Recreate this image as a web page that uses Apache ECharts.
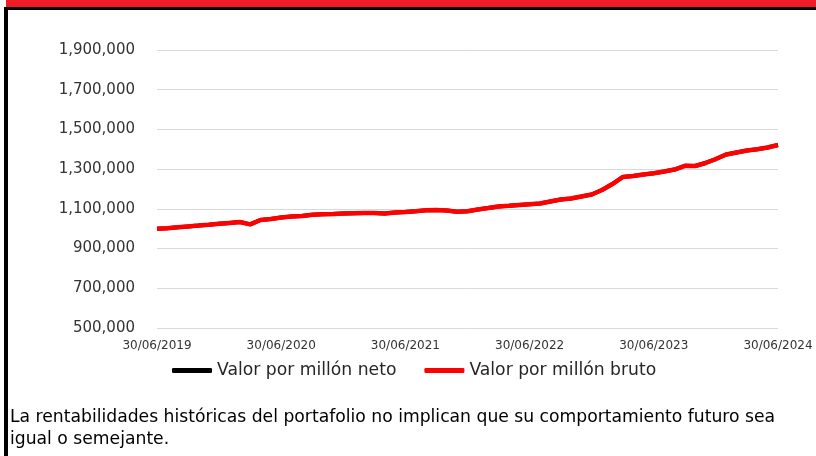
<!DOCTYPE html>
<html>
<head>
<meta charset="utf-8">
<script src="https://cdn.jsdelivr.net/npm/echarts@6/dist/echarts.min.js"></script>
<style>
  html, body { margin: 0; padding: 0; background: #fff; }
  #chart { width: 816px; height: 456px; }
</style>
</head>
<body>
<div id="chart"></div>
<script>
// monthly closing values, 30/06/2019 .. 30/06/2024
const brutoValues = [
  1000000, 1002600, 1007000, 1011600, 1015700, 1020200, 1024800, 1029300, 1033800, 1022000,
  1043900, 1048900, 1056500, 1061500, 1064000, 1070000, 1072500, 1074000, 1076000, 1077600,
  1078600, 1079000, 1076600, 1081600, 1084000, 1088000, 1092700, 1094000, 1091700, 1085700,
  1087700, 1096800, 1104300, 1111900, 1115400, 1119400, 1123000, 1127000, 1137000, 1147000,
  1152000, 1162000, 1172300, 1195000, 1225000, 1260400, 1265500, 1273000, 1279000, 1288000,
  1298000, 1317000, 1316000, 1331000, 1351000, 1374000, 1384000, 1394000, 1400500, 1409000,
  1421600
];
// neto sits under the bruto line in the picture
const netoValues = brutoValues.slice();

const seriesNames = ['Valor por millón neto', 'Valor por millón bruto'];
const yTicks = { min: 500000, max: 1900000, step: 200000 };
const footerText = 'La rentabilidades históricas del portafolio no implican que su comportamiento futuro sea\nigual o semejante.';

// month-end dates for the category axis
const categories = [];
for (let i = 0; i < brutoValues.length; i++) {
  const m = (5 + i) % 12;            // 0-based month, starting at June
  const y = 2019 + Math.floor((5 + i) / 12);
  const last = new Date(y, m + 1, 0).getDate();
  categories.push(String(last).padStart(2, '0') + '/' + String(m + 1).padStart(2, '0') + '/' + y);
}

const font = 'DejaVu Sans, sans-serif';
const chart = echarts.init(document.getElementById('chart'));

chart.setOption({
  animation: false,
  grid: { left: 157, right: 38, top: 50, bottom: 128 },
  legend: {
    data: seriesNames,
    left: 167,
    top: 357,
    icon: 'roundRect',
    itemWidth: 40,
    itemHeight: 5,
    itemGap: 28,
    textStyle: { fontFamily: font, fontSize: 17.2, color: '#262626' },
  },
  xAxis: {
    type: 'category',
    data: categories,
    boundaryGap: false,
    axisLine: { show: false },
    axisTick: { show: false },
    axisLabel: {
      interval: 11,
      margin: 12,
      fontFamily: font,
      fontSize: 12,
      color: '#333333',
    },
  },
  yAxis: {
    type: 'value',
    min: yTicks.min,
    max: yTicks.max,
    interval: yTicks.step,
    axisLine: { show: false },
    axisTick: { show: false },
    axisLabel: {
      margin: 22,
      fontFamily: font,
      fontSize: 15,
      color: '#333333',
      formatter: (v) => v.toLocaleString('en-US'),
    },
    splitLine: { lineStyle: { color: '#d9d9d9', width: 1 } },
  },
  series: [
    {
      name: seriesNames[0],
      type: 'line',
      data: netoValues,
      symbol: 'none',
      itemStyle: { color: '#000000' },
      lineStyle: { color: '#000000', width: 4 },
    },
    {
      name: seriesNames[1],
      type: 'line',
      data: brutoValues,
      symbol: 'none',
      itemStyle: { color: '#ff0000' },
      lineStyle: { color: '#ff0000', width: 4.5 },
    },
  ],
  graphic: [
    { type: 'rect', shape: { x: 6, y: 0, width: 810, height: 7 }, style: { fill: '#ee1c25' } },
    { type: 'rect', shape: { x: 4, y: 7, width: 812, height: 3 }, style: { fill: '#000000' } },
    { type: 'rect', shape: { x: 4, y: 7, width: 4, height: 449 }, style: { fill: '#000000' } },
    {
      type: 'text',
      left: 10,
      top: 407,
      style: {
        text: footerText,
        fontFamily: font,
        fontSize: 17.2,
        lineHeight: 22,
        fill: '#000000',
      },
    },
  ],
});
</script>
</body>
</html>
